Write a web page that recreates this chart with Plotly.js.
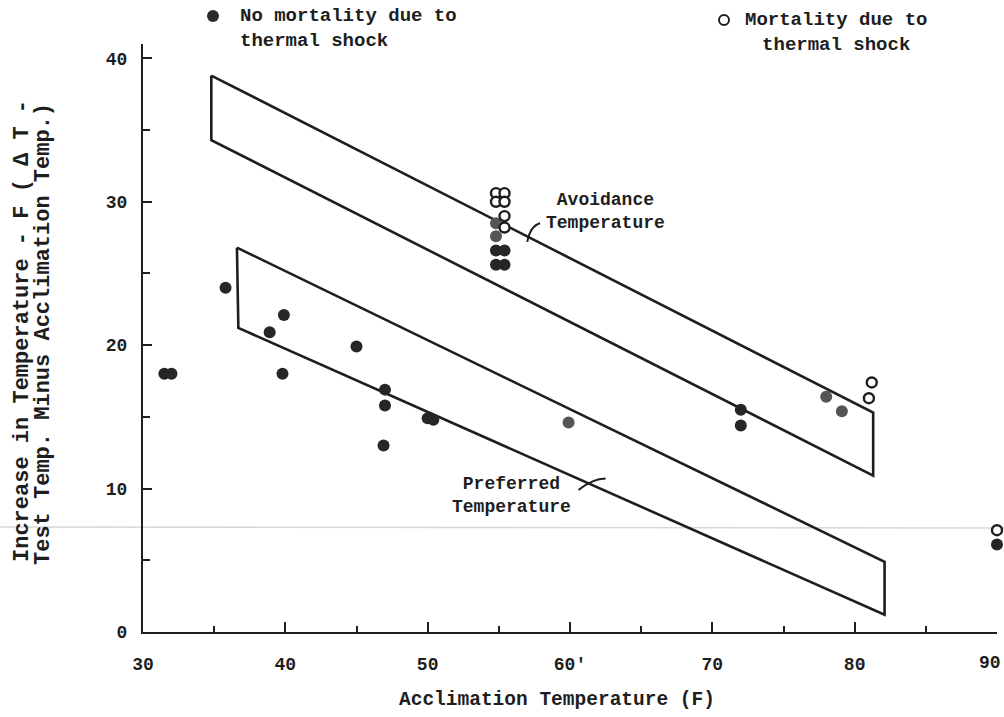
<!DOCTYPE html>
<html><head><meta charset="utf-8">
<script src="https://cdn.plot.ly/plotly-3.0.1.min.js"></script>
<style>html,body{margin:0;padding:0;background:#fff}#chart{width:1004px;height:717px}</style>
</head><body><div id="chart"></div>
<script>
// ---- data ----
const filledX = [31.5, 32.0, 35.8, 38.9, 39.9, 39.8, 45.0, 47.0, 47.0, 46.9, 50.0, 50.4, 54.8, 55.4, 54.8, 55.4, 72.0, 72.0, 90.0];
const filledY = [18.0, 18.0, 24.0, 20.9, 22.1, 18.0, 19.9, 16.9, 15.8, 13.0, 14.9, 14.8, 26.6, 26.6, 25.6, 25.6, 15.5, 14.4, 6.1];
const greyX = [54.8, 54.8, 59.9, 78.0, 79.1];
const greyY = [28.5, 27.6, 14.6, 16.4, 15.4];
const openX = [54.8, 55.4, 54.8, 55.4, 55.4, 55.4, 81.2, 81.0, 90.0];
const openY = [30.6, 30.6, 30.0, 30.0, 29.0, 28.2, 17.4, 16.3, 7.1];
const avoidX = [34.8, 81.3, 81.3, 34.8, 34.8];
const avoidY = [38.8, 15.3, 10.9, 34.3, 38.8];
const prefX = [36.6, 82.1, 82.1, 36.7, 36.6];
const prefY = [26.8, 4.9, 1.2, 21.2, 26.8];
const xTicks = [30, 40, 50, 60, 70, 80, 90];
const xTickText = ['30', '40', '50', "60'", '70', '80', ''];   // last label drawn as annotation so it stays inside the page
const lastXLabel = '90';
const yTicks = [0, 10, 20, 30, 40];

const FONT = 'Liberation Mono, DejaVu Sans Mono, monospace';
const INK = '#1e1e1e';
const f = (size) => ({family: FONT, size: size, color: INK, weight: 'bold'});

const traces = [
  {x: avoidX, y: avoidY, mode: 'lines', line: {color: INK, width: 2.6}, hoverinfo: 'skip'},
  {x: prefX, y: prefY, mode: 'lines', line: {color: INK, width: 2.6}, hoverinfo: 'skip'},
  {x: filledX, y: filledY, mode: 'markers', cliponaxis: false,
   marker: {size: 12, color: '#262626', line: {width: 0}}},
  {x: greyX, y: greyY, mode: 'markers', cliponaxis: false,
   marker: {size: 12, color: '#555555', line: {width: 0}}},
  {x: openX, y: openY, mode: 'markers', cliponaxis: false,
   marker: {size: 10, color: '#ffffff', line: {width: 2.4, color: INK}}}
];

const px = v => (v - 143) / 854;     // pixel -> paper x
const py = v => (632 - v) / 588;     // pixel -> paper y

const layout = {
  width: 1004, height: 717,
  margin: {l: 143, r: 7, t: 44, b: 85},
  paper_bgcolor: '#fff', plot_bgcolor: '#fff',
  showlegend: false,
  font: {family: FONT, color: INK},
  xaxis: {
    range: [30, 90], showgrid: false, zeroline: false,
    showline: true, linecolor: INK, linewidth: 2,
    tickmode: 'array', tickvals: xTicks, ticktext: xTickText,
    ticks: 'inside', ticklen: 10, tickwidth: 2, tickcolor: INK,
    minor: {dtick: 5, ticks: 'inside', ticklen: 6, tickwidth: 2, tickcolor: INK},
    tickfont: f(18), ticklabelstandoff: 14
  },
  yaxis: {
    range: [0, 41], showgrid: false, zeroline: false,
    showline: true, linecolor: INK, linewidth: 2,
    tickmode: 'array', tickvals: yTicks,
    ticks: 'inside', ticklen: 9, tickwidth: 2, tickcolor: INK,
    minor: {dtick: 5, ticks: 'inside', ticklen: 7, tickwidth: 2, tickcolor: INK},
    tickfont: f(18), ticklabelstandoff: 10
  },
  shapes: [
    {type: 'line', xref: 'paper', yref: 'paper', x0: px(0), x1: px(1004), y0: py(527), y1: py(528),
     line: {color: '#d8d8d8', width: 1.5}, layer: 'below'},
    {type: 'circle', xref: 'paper', yref: 'paper', x0: px(207), x1: px(219), y0: py(22), y1: py(10),
     fillcolor: '#2a2a2a', line: {width: 0}},
    {type: 'circle', xref: 'paper', yref: 'paper', x0: px(719), x1: px(729), y0: py(25), y1: py(15),
     fillcolor: '#fff', line: {width: 2, color: INK}},
    {type: 'path', xref: 'x', yref: 'y', path: 'M 57.9 28.5 Q 57.2 28.3 57.0 27.2', line: {color: INK, width: 2}},
    {type: 'path', xref: 'x', yref: 'y', path: 'M 60.6 9.9 Q 61.6 10.7 62.5 10.7', line: {color: INK, width: 2}}
  ],
  annotations: [
    {xref: 'paper', yref: 'paper', x: px(238), y: py(3), xanchor: 'left', yanchor: 'top', align: 'left',
     showarrow: false, text: 'No mortality due to<br>thermal shock', font: f(19)},
    {xref: 'paper', yref: 'paper', x: px(836), y: py(7), xanchor: 'center', yanchor: 'top', align: 'center',
     showarrow: false, text: 'Mortality due to<br>thermal shock', font: f(19)},
    {xref: 'x', yref: 'y', x: 62.5, y: 29.3, xanchor: 'center', yanchor: 'middle', showarrow: false, align: 'center',
     text: 'Avoidance<br>Temperature', font: f(18)},
    {xref: 'x', yref: 'y', x: 55.9, y: 9.5, xanchor: 'center', yanchor: 'middle', showarrow: false, align: 'center',
     text: 'Preferred<br>Temperature', font: f(18)},
    {xref: 'paper', yref: 'paper', x: px(1003), y: py(663), xanchor: 'right', yanchor: 'middle', showarrow: false,
     text: lastXLabel, font: f(18)},
    {xref: 'paper', yref: 'paper', x: px(557), y: py(700), xanchor: 'center', yanchor: 'middle', showarrow: false,
     text: 'Acclimation Temperature (F)', font: f(19.5)},
    {xref: 'paper', yref: 'paper', x: px(22), y: py(331), xanchor: 'center', yanchor: 'middle', textangle: -90, showarrow: false,
     text: 'Increase in Temperature - F ( \u0394 T -', font: f(22)},
    {xref: 'paper', yref: 'paper', x: px(43), y: py(334), xanchor: 'center', yanchor: 'middle', textangle: -90, showarrow: false,
     text: 'Test Temp. Minus Acclimation Temp.)', font: f(22)}
  ]
};

Plotly.newPlot('chart', traces, layout, {displayModeBar: false, staticPlot: true});
</script></body></html>
